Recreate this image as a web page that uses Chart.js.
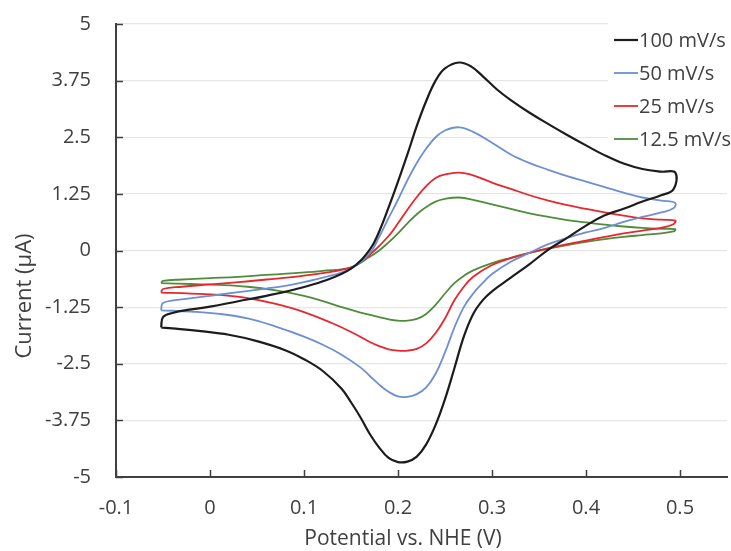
<!DOCTYPE html>
<html>
<head>
<meta charset="utf-8">
<script src="https://cdn.jsdelivr.net/npm/chart.js@4"></script>
<style>
  body { margin: 0; background: #fff; }
  .wrapper { width: 731px; height: 551px; }
</style>
</head>
<body>
<div class="wrapper"><canvas id="chart"></canvas></div>
<script>
// ===== data (potential in V, current in µA) =====

const seriesLabels = ['100 mV/s', '50 mV/s', '25 mV/s', '12.5 mV/s'];
const seriesColors = ['#1c1c1c', '#6d8fd3', '#e8262d', '#4f8d3b'];

const xTickValues = [-0.1, 0, 0.1, 0.2, 0.3, 0.4, 0.5];
const yTickValues = [-5, -3.75, -2.5, -1.25, 0, 1.25, 2.5, 3.75, 5];

// 100 mV/s : forward scan then reverse scan
const potential100 = [-0.052, -0.05, -0.04, -0.02, 0.0, 0.03, 0.06, 0.09, 0.12, 0.15, 0.17, 0.18, 0.19, 0.2, 0.21, 0.22, 0.23, 0.24, 0.25, 0.265, 0.278, 0.29, 0.305, 0.32, 0.34, 0.36, 0.38, 0.4, 0.42, 0.44, 0.46, 0.48, 0.495,
  0.493, 0.48, 0.46, 0.44, 0.42, 0.4, 0.38, 0.36, 0.34, 0.32, 0.3, 0.29, 0.28, 0.27, 0.26, 0.25, 0.24, 0.23, 0.22, 0.21, 0.2, 0.19, 0.18, 0.17, 0.16, 0.15, 0.14, 0.12, 0.1, 0.08, 0.05, 0.02, -0.01, -0.04, -0.052];
const current100 = [-1.70, -1.47, -1.38, -1.30, -1.24, -1.12, -1.00, -0.86, -0.68, -0.40, 0.02, 0.42, 0.95, 1.52, 2.12, 2.75, 3.30, 3.75, 4.02, 4.15, 4.06, 3.85, 3.56, 3.32, 3.04, 2.79, 2.55, 2.32, 2.10, 1.92, 1.80, 1.74, 1.72,
  1.35, 1.22, 1.08, 0.92, 0.78, 0.55, 0.28, 0.02, -0.30, -0.60, -0.90, -1.10, -1.40, -1.90, -2.60, -3.28, -3.85, -4.28, -4.55, -4.66, -4.67, -4.58, -4.35, -4.05, -3.68, -3.35, -3.05, -2.66, -2.40, -2.20, -2.00, -1.86, -1.78, -1.72, -1.70];

// 50 mV/s
const potential50 = [-0.052, -0.05, -0.03, 0.0, 0.03, 0.06, 0.09, 0.12, 0.15, 0.17, 0.18, 0.19, 0.2, 0.21, 0.22, 0.23, 0.24, 0.25, 0.265, 0.28, 0.3, 0.32, 0.34, 0.36, 0.38, 0.4, 0.42, 0.44, 0.46, 0.48, 0.495,
  0.493, 0.48, 0.46, 0.44, 0.42, 0.4, 0.38, 0.36, 0.34, 0.32, 0.3, 0.29, 0.28, 0.27, 0.26, 0.25, 0.24, 0.23, 0.22, 0.21, 0.2, 0.19, 0.18, 0.17, 0.16, 0.14, 0.12, 0.1, 0.07, 0.04, 0.01, -0.02, -0.052];
const current50 = [-1.32, -1.16, -1.08, -1.00, -0.92, -0.84, -0.74, -0.60, -0.40, -0.06, 0.30, 0.72, 1.12, 1.55, 1.93, 2.25, 2.50, 2.65, 2.72, 2.62, 2.38, 2.12, 1.93, 1.78, 1.64, 1.52, 1.40, 1.28, 1.17, 1.10, 1.05,
  0.93, 0.84, 0.74, 0.63, 0.50, 0.40, 0.28, 0.14, -0.05, -0.25, -0.52, -0.72, -0.95, -1.25, -1.70, -2.25, -2.72, -3.02, -3.17, -3.23, -3.22, -3.12, -2.96, -2.77, -2.58, -2.30, -2.08, -1.90, -1.68, -1.50, -1.40, -1.35, -1.32];

// 25 mV/s
const potential25 = [-0.052, -0.05, -0.03, 0.0, 0.03, 0.06, 0.09, 0.12, 0.15, 0.16, 0.175, 0.19, 0.2, 0.21, 0.22, 0.23, 0.24, 0.25, 0.265, 0.28, 0.3, 0.32, 0.34, 0.36, 0.38, 0.4, 0.42, 0.44, 0.46, 0.48, 0.495,
  0.493, 0.48, 0.46, 0.44, 0.42, 0.4, 0.38, 0.36, 0.34, 0.32, 0.3, 0.28, 0.27, 0.26, 0.25, 0.24, 0.23, 0.22, 0.21, 0.2, 0.19, 0.18, 0.17, 0.155, 0.135, 0.1, 0.07, 0.04, 0.01, -0.02, -0.052];
const current25 = [-0.93, -0.85, -0.80, -0.75, -0.70, -0.64, -0.58, -0.50, -0.38, -0.26, 0.0, 0.32, 0.60, 0.90, 1.18, 1.42, 1.60, 1.68, 1.72, 1.66, 1.50, 1.36, 1.22, 1.10, 1.00, 0.92, 0.84, 0.77, 0.71, 0.68, 0.66,
  0.58, 0.50, 0.44, 0.38, 0.30, 0.22, 0.14, 0.05, -0.05, -0.17, -0.32, -0.58, -0.80, -1.10, -1.50, -1.82, -2.05, -2.17, -2.21, -2.21, -2.18, -2.11, -2.02, -1.85, -1.65, -1.36, -1.18, -1.05, -0.98, -0.95, -0.93];

// 12.5 mV/s
const potential12 = [-0.052, -0.05, -0.03, 0.0, 0.03, 0.06, 0.09, 0.12, 0.15, 0.17, 0.18, 0.19, 0.2, 0.21, 0.22, 0.23, 0.24, 0.25, 0.265, 0.28, 0.3, 0.32, 0.34, 0.36, 0.38, 0.4, 0.42, 0.44, 0.46, 0.48, 0.495,
  0.493, 0.48, 0.46, 0.44, 0.42, 0.4, 0.38, 0.36, 0.34, 0.32, 0.3, 0.28, 0.27, 0.26, 0.25, 0.24, 0.23, 0.22, 0.21, 0.2, 0.19, 0.18, 0.16, 0.14, 0.12, 0.1, 0.07, 0.04, 0.01, -0.02, -0.052];
const current12 = [-0.72, -0.67, -0.64, -0.61, -0.58, -0.54, -0.50, -0.45, -0.37, -0.14, 0.0, 0.18, 0.38, 0.60, 0.80, 0.96, 1.08, 1.14, 1.17, 1.12, 1.02, 0.92, 0.82, 0.74, 0.67, 0.62, 0.57, 0.53, 0.50, 0.48, 0.47,
  0.42, 0.38, 0.34, 0.30, 0.25, 0.19, 0.12, 0.04, -0.05, -0.16, -0.28, -0.44, -0.56, -0.72, -0.95, -1.20, -1.40, -1.51, -1.55, -1.55, -1.52, -1.47, -1.37, -1.25, -1.12, -1.00, -0.88, -0.80, -0.76, -0.74, -0.72];

const xTitle = 'Potential vs. NHE (V)';
const yTitle = 'Current (µA)';

// ==================================

const textColor = '#404040';
const axisColor = '#404040';
const fontFamily = '"Open Sans", sans-serif';

function toPoints(xs, ys) {
    return xs.map((x, i) => ({ x: x, y: ys[i] }));
}

const loops = [
    toPoints(potential100, current100),
    toPoints(potential50, current50),
    toPoints(potential25, current25),
    toPoints(potential12, current12)
];

const datasets = loops.map((pts, i) => ({
    label: seriesLabels[i],
    data: pts,
    borderColor: seriesColors[i],
    backgroundColor: seriesColors[i],
    borderWidth: i === 0 ? 2.2 : 1.8,
    showLine: true,
    pointRadius: 0,
    tension: 0.4,
    fill: false
}));

// legend box like the Excel one (top right, over the plot)
// + small inward tick marks on both axes
const legendPlugin = {
    id: 'cornerLegend',
    beforeDatasetsDraw(chart) {
        const ctx = chart.ctx;
        const area = chart.chartArea;
        const xs = chart.scales.x;
        const ys = chart.scales.y;
        ctx.save();
        ctx.fillStyle = '#fff';
        ctx.fillRect(608, area.top - 4, 123, 135);
        ctx.strokeStyle = axisColor;
        ctx.lineWidth = 1.5;
        ctx.beginPath();
        xTickValues.forEach(v => {
            const px = Math.round(xs.getPixelForValue(v)) + 0.5;
            ctx.moveTo(px, area.bottom);
            ctx.lineTo(px, area.bottom - 7);
        });
        yTickValues.forEach(v => {
            const py = Math.round(ys.getPixelForValue(v)) + 0.5;
            ctx.moveTo(area.left, py);
            ctx.lineTo(area.left + 7, py);
        });
        ctx.stroke();
        ctx.restore();
    },
    afterDraw(chart) {
        const ctx = chart.ctx;
        ctx.save();
        ctx.font = '20px ' + fontFamily;
        ctx.textBaseline = 'middle';
        chart.data.datasets.forEach((ds, i) => {
            const y = 40 + i * 33;
            ctx.strokeStyle = ds.borderColor;
            ctx.lineWidth = ds.borderWidth;
            ctx.beginPath();
            ctx.moveTo(614, y);
            ctx.lineTo(638, y);
            ctx.stroke();
            ctx.fillStyle = textColor;
            ctx.fillText(ds.label, 639, y + 1);
        });
        ctx.restore();
    }
};

// axis titles placed where Excel put them
const titlePlugin = {
    id: 'axisTitles',
    afterDraw(chart) {
        const ctx = chart.ctx;
        ctx.save();
        ctx.fillStyle = textColor;
        ctx.font = '21px ' + fontFamily;
        ctx.textAlign = 'center';
        ctx.textBaseline = 'middle';
        ctx.fillText(xTitle, 403, 539);
        ctx.font = '22px ' + fontFamily;
        ctx.translate(25, 296);
        ctx.rotate(-Math.PI / 2);
        ctx.fillText(yTitle, 0, 0);
        ctx.restore();
    }
};

const config = {
    type: 'scatter',
    data: { datasets: datasets },
    options: {
        responsive: true,
        maintainAspectRatio: false,
        animation: false,
        layout: { padding: { top: 24, right: 4, left: 0, bottom: 0 } },
        plugins: {
            legend: { display: false },
            tooltip: { enabled: false }
        },
        scales: {
            x: {
                type: 'linear',
                min: -0.1,
                max: 0.55,
                afterFit: scale => {
                    scale.height = 74;
                    scale.paddingLeft = 0;
                    scale.paddingRight = 0;
                },
                afterBuildTicks: scale => { scale.ticks = xTickValues.map(v => ({ value: v })); },
                ticks: {
                    color: textColor,
                    font: { family: fontFamily, size: 20 },
                    padding: 19,
                    maxRotation: 0,
                    callback: v => String(v)
                },
                grid: {
                    drawOnChartArea: false,
                    drawTicks: false
                },
                border: { color: axisColor, width: 2 }
            },
            y: {
                type: 'linear',
                min: -5,
                max: 5,
                afterFit: scale => {
                    scale.width = 116;
                    scale.paddingTop = 0;
                    scale.paddingBottom = 0;
                },
                afterBuildTicks: scale => { scale.ticks = yTickValues.map(v => ({ value: v })); },
                ticks: {
                    color: textColor,
                    font: { family: fontFamily, size: 20 },
                    padding: 25,
                    callback: v => String(v)
                },
                grid: {
                    color: '#e6e6e6',
                    lineWidth: 1.2,
                    drawTicks: false
                },
                border: { color: axisColor, width: 2 }
            }
        }
    },
    plugins: [legendPlugin, titlePlugin]
};

const chart = new Chart(document.querySelector('#chart'), config);
</script>
</body>
</html>
